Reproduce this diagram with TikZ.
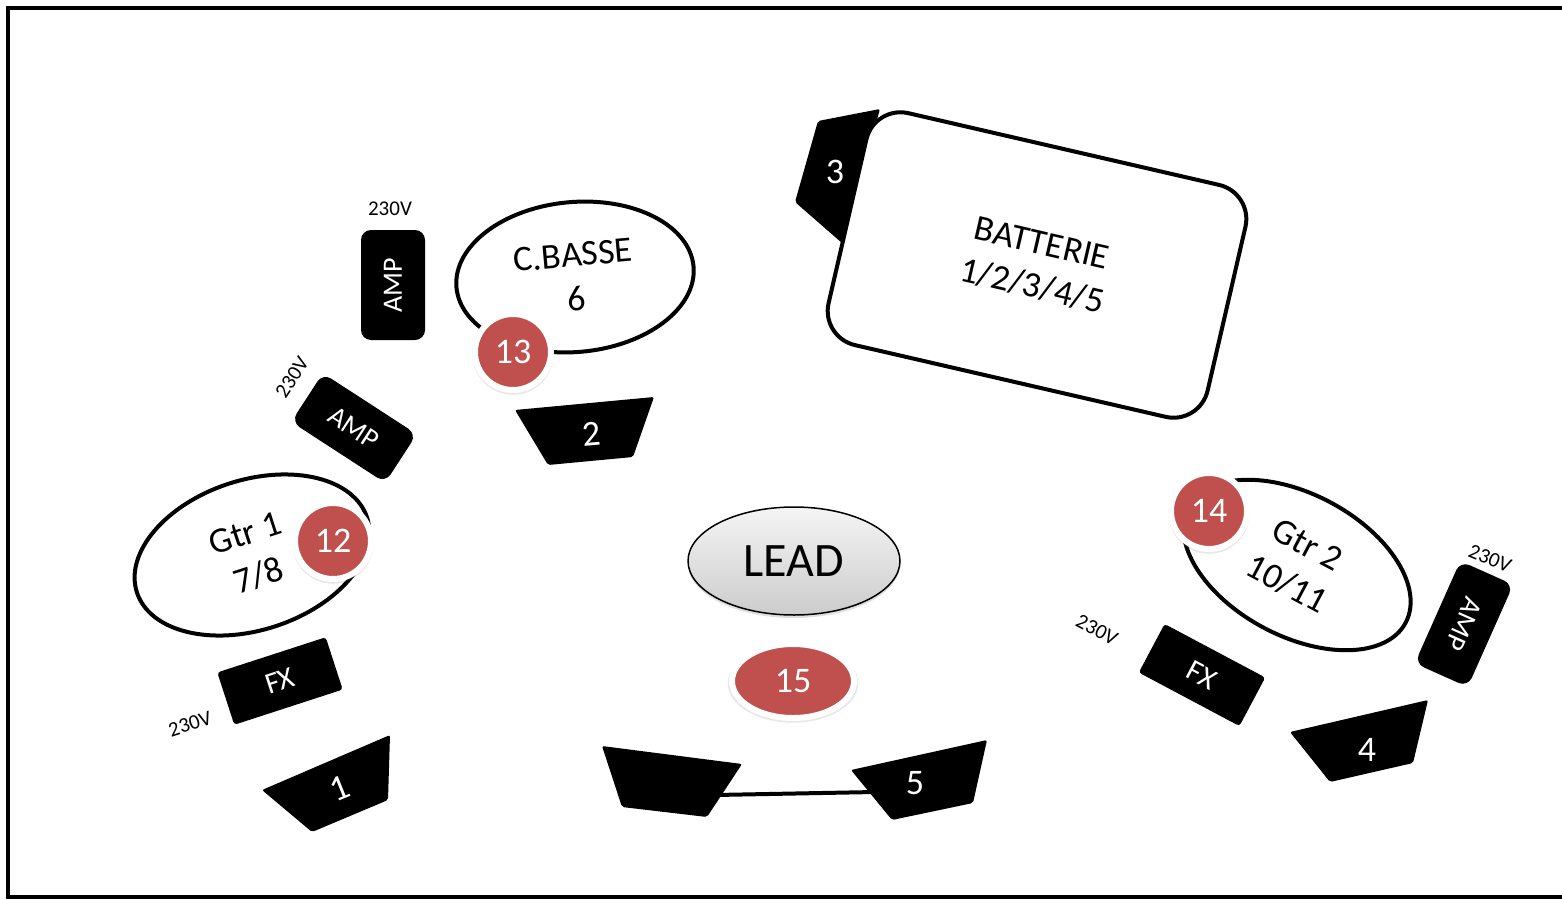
\documentclass[tikz,border=0pt]{standalone}
\usepackage{fontspec}
\setmainfont{Carlito}
\usepackage{tikz}
\usetikzlibrary{shapes, calc, shadows}
\definecolor{badgered}{HTML}{C0504D}

\begin{document}
\begin{tikzpicture}[x=1pt, y=-1pt,
	plan/.style={draw, line width=4pt, fill=white, inner sep=0pt, align=center, font=\fontsize{36}{44}\selectfont},
	box/.style={fill=black, text=white, rounded corners=10pt, inner sep=0pt, font=\fontsize{28}{30}\selectfont},
	wedge/.style={fill=black, rounded corners=2pt},
	wnum/.style={text=white, inner sep=0pt, font=\fontsize{36}{40}\selectfont},
	volt/.style={inner sep=0pt, font=\fontsize{21}{23}\selectfont},
	badge/.style={fill=badgered, draw=white, line width=6pt, text=white, inner sep=0pt, font=\fontsize{36}{40}\selectfont, drop shadow={opacity=0.18, shadow scale=1.07, shadow xshift=0pt, shadow yshift=-2pt}}]

	\useasboundingbox (0,0) rectangle (1562,899);
	\draw[line width=4pt] (8,8) rectangle (1600,897);

	% cable between the two front wedges
	\coordinate (cable l) at (715,795);
	\coordinate (cable r) at (875,792);
	\draw[line width=4pt] (cable l) -- (cable r);

	% wedges
	\fill[wedge] (818,121) -- (880,109) -- (842,243) -- (795,202) -- cycle;
	\node[wnum] (num3) at (835,172) {3};
	\fill[wedge] (515,410) -- (654,397) -- (633,457) -- (548,465) -- cycle;
	\node[wnum, rotate=5] (num2) at (592,434) {2};
	\fill[wedge] (262,790) -- (390,735) -- (388,800) -- (312,832) -- cycle;
	\node[wnum, rotate=22] (num1) at (340,788) {1};
	\fill[wedge] (602,746) -- (742,764) -- (707,817) -- (622,807) -- cycle;
	\fill[wedge] (851,770) -- (987,740) -- (973,803) -- (892,820) -- cycle;
	\node[wnum] (num5) at (915,783) {5};
	\fill[wedge] (1290,732) -- (1428,700) -- (1413,763) -- (1330,782) -- cycle;
	\node[wnum] (num4) at (1367,750) {4};

	% drums
	\node[plan, rectangle, rounded corners=35pt, minimum width=389pt, minimum height=238pt, rotate=-13] (batterie) at (1037,265) {BATTERIE\\1/2/3/4/5};

	% players
	\node[plan, ellipse, minimum width=238pt, minimum height=150pt, rotate=5] (cbasse) at (575,277) {C.BASSE\\6};
	\node[plan, ellipse, minimum width=242pt, minimum height=150pt, rotate=18] (gtr1) at (252,555) {Gtr 1\\7/8};
	\node[plan, ellipse, minimum width=246pt, minimum height=142pt, rotate=-28] (gtr2) at (1297,565) {Gtr 2\\10/11};
	\node[ellipse, draw, line width=1.5pt, top color=gray!8, bottom color=gray!40, minimum width=212pt, minimum height=108pt, inner sep=0pt, font=\fontsize{48}{50}\selectfont, drop shadow={opacity=0.25, shadow xshift=0pt, shadow yshift=-3pt}] (lead) at (794,561) {LEAD\hspace{10pt}};

	% amps and effects
	\node[box, minimum width=110pt, minimum height=64pt, rotate=90] (amp1) at (393,285) {AMP};
	\node[box, minimum width=112pt, minimum height=58pt, rotate=-33] (amp2) at (354,428) {AMP};
	\node[box, minimum width=112pt, minimum height=58pt, rotate=-114] (amp3) at (1464,624) {AMP};
	\node[box, rounded corners=3pt, minimum width=114pt, minimum height=55pt, rotate=18, font=\fontsize{30}{32}\selectfont] (fx1) at (280,681) {FX};
	\node[box, rounded corners=3pt, minimum width=114pt, minimum height=55pt, rotate=-28, font=\fontsize{30}{32}\selectfont] (fx2) at (1202,675) {FX};

	\node[volt] (v1) at (390,209) {230V};
	\node[volt, rotate=57] (v2) at (292,377) {230V};
	\node[volt, rotate=18] (v3) at (190,724) {230V};
	\node[volt, rotate=-28] (v4) at (1097,630) {230V};
	\node[volt, rotate=-22] (v5) at (1490,558) {230V};

	% radio mics
	\node[badge, circle, minimum size=76pt] (b13) at (513,352) {13};
	\node[badge, circle, minimum size=76pt] (b12) at (333,541) {12};
	\node[badge, circle, minimum size=76pt] (b14) at (1209,511) {14};
	\node[badge, ellipse, minimum width=122pt, minimum height=74pt] (b15) at (793,681) {15};

\end{tikzpicture}
\end{document}
